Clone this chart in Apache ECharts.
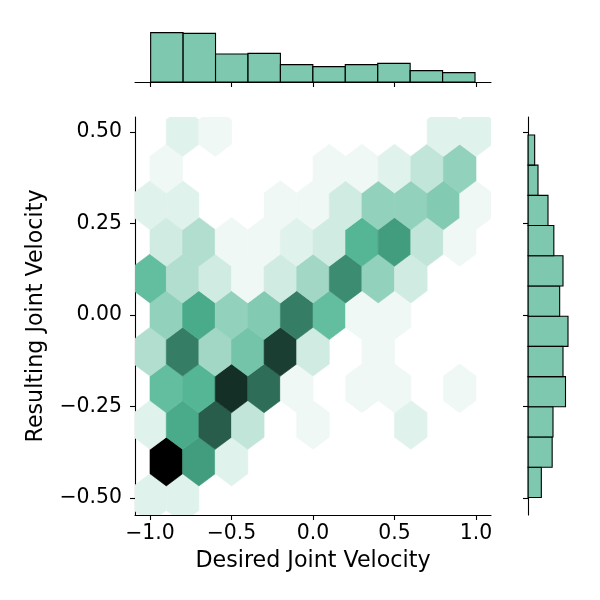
<!DOCTYPE html>
<html>
<head>
<meta charset="utf-8">
<script src="https://cdn.jsdelivr.net/npm/echarts@6/dist/echarts.min.js"></script>
</head>
<body style="margin:0;background:#fff">
<div id="chart" style="width:600px;height:600px"></div>
<script>
// hexbin cells: centre x, centre y, count
const hexX = [
  -1.0, -0.8,
  -0.9, -0.7, -0.5,
  -1.0, -0.8, -0.6, -0.4, 0.0, 0.6,
  -0.9, -0.7, -0.5, -0.3, -0.1, 0.3, 0.5, 0.9,
  -1.0, -0.8, -0.6, -0.4, -0.2, 0.0, 0.4,
  -0.9, -0.7, -0.5, -0.3, -0.1, 0.1, 0.3, 0.5,
  -1.0, -0.8, -0.6, -0.4, -0.2, 0.0, 0.2, 0.4, 0.6,
  -0.9, -0.7, -0.5, -0.3, -0.1, 0.1, 0.3, 0.5, 0.7, 0.9,
  -1.0, -0.8, -0.2, 0.0, 0.2, 0.4, 0.6, 0.8, 1.0,
  -0.9, 0.1, 0.3, 0.5, 0.7, 0.9,
  -0.8, -0.6, 0.8, 1.0
];
const hexY = [
  -0.5, -0.5,
  -0.4, -0.4, -0.4,
  -0.3, -0.3, -0.3, -0.3, -0.3, -0.3,
  -0.2, -0.2, -0.2, -0.2, -0.2, -0.2, -0.2, -0.2,
  -0.1, -0.1, -0.1, -0.1, -0.1, -0.1, -0.1,
  0.0, 0.0, 0.0, 0.0, 0.0, 0.0, 0.0, 0.0,
  0.1, 0.1, 0.1, 0.1, 0.1, 0.1, 0.1, 0.1, 0.1,
  0.2, 0.2, 0.2, 0.2, 0.2, 0.2, 0.2, 0.2, 0.2, 0.2,
  0.3, 0.3, 0.3, 0.3, 0.3, 0.3, 0.3, 0.3, 0.3,
  0.4, 0.4, 0.4, 0.4, 0.4, 0.4,
  0.5, 0.5, 0.5, 0.5
];
const hexCount = [
  2, 2,
  23, 13, 2,
  2, 12, 17, 4, 1, 2,
  10, 11, 20, 16, 1, 1, 1, 1,
  5, 15, 6, 9, 19, 3, 1,
  7, 12, 7, 8, 15, 10, 1, 1,
  10, 5, 3, 1, 3, 6, 14, 7, 3,
  3, 5, 1, 1, 2, 3, 11, 13, 4, 1,
  2, 2, 1, 1, 3, 7, 7, 8, 1,
  1, 1, 1, 2, 4, 7,
  2, 1, 2, 2
];

// marginal histograms
const xHistStart = -0.996;
const xHistWidth = 0.199;
const xHistCounts = [74, 73, 42, 43, 26, 23, 26, 28, 17, 14];
const yHistStart = -0.498;
const yHistWidth = 0.0825;
const yHistCounts = [16, 29, 30, 45, 42, 48, 38, 42, 31, 24, 12, 8];

const xTicks = [-1.0, -0.5, 0.0, 0.5, 1.0];
const yTicks = [-0.5, -0.25, 0.0, 0.25, 0.5];

const xMin = -1.092, xMax = 1.092;
const yMin = -0.546, yMax = 0.541;
const hexSx = 0.2, hexSy = 0.2;
const maxCount = Math.max(...hexCount);

// seaborn style: hue of #4CB391, lightness 1 -> 0
const hlsColor = (l) => {
  const h = 160 / 360, s = 0.404;
  const q = l < 0.5 ? l * (1 + s) : l + s - l * s;
  const p = 2 * l - q;
  const f = (t) => {
    if (t < 0) t += 1;
    if (t > 1) t -= 1;
    if (t < 1 / 6) return p + (q - p) * 6 * t;
    if (t < 1 / 2) return q;
    if (t < 2 / 3) return p + (q - p) * (2 / 3 - t) * 6;
    return p;
  };
  const c = [f(h + 1 / 3), f(h), f(h - 1 / 3)].map(v => Math.round(v * 255));
  return 'rgb(' + c.join(',') + ')';
};

const hexOffsets = [[0.5, -0.5], [0.5, 0.5], [0, 1], [-0.5, 0.5], [-0.5, -0.5], [0, -1]]
  .map(([a, b]) => [a * hexSx, b * hexSy / 3]);

const fmtMinus = (v, d) => (v < 0 ? '\u2212' : '') + Math.abs(v).toFixed(d);

const font = 'DejaVu Sans';
const tickSize = 20.4;
const labelSize = 22.2;
const axisLine = { show: true, onZero: false, lineStyle: { color: '#000', width: 1.1 } };
const tick = (vals) => ({ show: true, customValues: vals, length: 5, lineStyle: { color: '#000', width: 1.1 } });

const chart = echarts.init(document.getElementById('chart'));
chart.setOption({
  animation: false,
  backgroundColor: '#fff',
  grid: [
    { left: 135, top: 117, width: 356, height: 398 },
    { left: 135, top: 30, width: 356, height: 52 },
    { left: 528, top: 117, width: 52, height: 398 }
  ],
  xAxis: [
    {
      gridIndex: 0, type: 'value', min: xMin, max: xMax,
      splitLine: { show: false },
      axisLine: axisLine,
      axisTick: tick(xTicks),
      axisLabel: {
        customValues: xTicks, color: '#000', fontFamily: font, fontSize: tickSize, margin: 9,
        formatter: v => fmtMinus(v, 1)
      },
      name: 'Desired Joint Velocity', nameLocation: 'middle', nameGap: 35,
      nameTextStyle: { color: '#000', fontFamily: font, fontSize: labelSize }
    },
    {
      gridIndex: 1, type: 'value', min: xMin, max: xMax,
      splitLine: { show: false },
      axisLine: axisLine,
      axisTick: tick(xTicks),
      axisLabel: { show: false }
    },
    {
      gridIndex: 2, type: 'value', min: 0, max: 62.4, show: false
    }
  ],
  yAxis: [
    {
      gridIndex: 0, type: 'value', min: yMin, max: yMax,
      splitLine: { show: false },
      axisLine: axisLine,
      axisTick: tick(yTicks),
      axisLabel: {
        customValues: yTicks, color: '#000', fontFamily: font, fontSize: tickSize, margin: 13,
        formatter: v => fmtMinus(v, 2)
      },
      name: 'Resulting Joint Velocity', nameLocation: 'middle', nameGap: 88,
      nameTextStyle: { color: '#000', fontFamily: font, fontSize: labelSize }
    },
    {
      gridIndex: 1, type: 'value', min: 0, max: 78, show: false
    },
    {
      gridIndex: 2, type: 'value', min: yMin, max: yMax,
      splitLine: { show: false },
      axisLine: axisLine,
      axisTick: tick(yTicks),
      axisLabel: { show: false }
    }
  ],
  series: [
    {
      type: 'custom',
      xAxisIndex: 0, yAxisIndex: 0,
      clip: true,
      data: hexX.map((x, i) => [x, hexY[i], hexCount[i]]),
      renderItem: (params, api) => {
        const cx = api.value(0), cy = api.value(1);
        const color = hlsColor(1 - api.value(2) / maxCount);
        const pts = hexOffsets.map(([dx, dy]) => api.coord([cx + dx, cy + dy]));
        return {
          type: 'polygon',
          shape: { points: pts },
          style: { fill: color, stroke: color, lineWidth: 0.6 }
        };
      }
    },
    {
      type: 'custom',
      xAxisIndex: 1, yAxisIndex: 1,
      data: xHistCounts.map((c, i) => [xHistStart + i * xHistWidth, xHistStart + (i + 1) * xHistWidth, c]),
      renderItem: (params, api) => {
        const p0 = api.coord([api.value(0), api.value(2)]);
        const p1 = api.coord([api.value(1), 0]);
        return {
          type: 'rect',
          shape: { x: p0[0], y: p0[1], width: p1[0] - p0[0], height: p1[1] - p0[1] },
          style: { fill: 'rgba(76,179,145,0.72)', stroke: '#000', lineWidth: 1.1 }
        };
      }
    },
    {
      type: 'custom',
      xAxisIndex: 2, yAxisIndex: 2,
      data: yHistCounts.map((c, i) => [yHistStart + i * yHistWidth, yHistStart + (i + 1) * yHistWidth, c]),
      renderItem: (params, api) => {
        const p0 = api.coord([0, api.value(1)]);
        const p1 = api.coord([api.value(2), api.value(0)]);
        return {
          type: 'rect',
          shape: { x: p0[0], y: p0[1], width: p1[0] - p0[0], height: p1[1] - p0[1] },
          style: { fill: 'rgba(76,179,145,0.72)', stroke: '#000', lineWidth: 1.1 }
        };
      }
    }
  ]
});
</script>
</body>
</html>
